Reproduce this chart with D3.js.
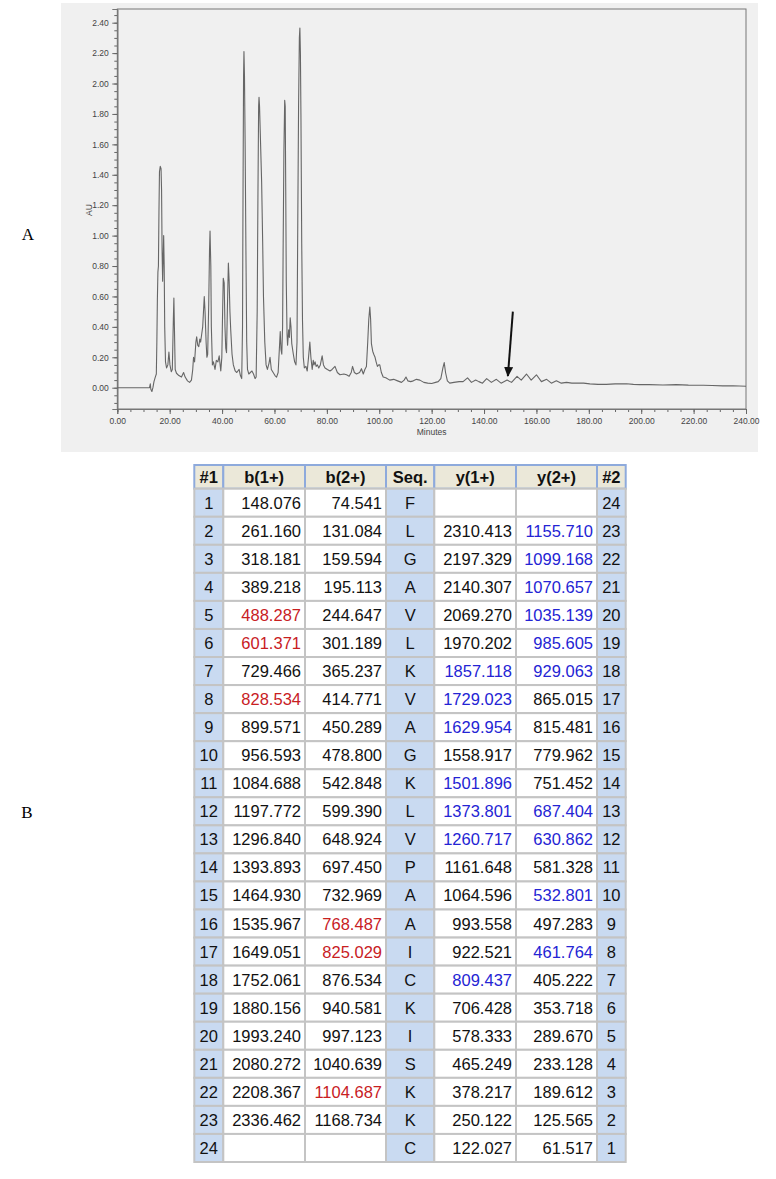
<!DOCTYPE html>
<html>
<head>
<meta charset="utf-8">
<script src="https://cdn.jsdelivr.net/npm/d3@7"></script>
<style>
  body { margin: 0; background: #fff; }
  svg { display: block; font-family: 'Liberation Sans', Arial, sans-serif; }
</style>
</head>
<body>
<svg id="fig" width="776" height="1179"></svg>
<script>
// chromatogram: [minutes, AU]
let trace = [
  [0, 0], [12.3, 0], [12.6, 0.025], [12.8, -0.01], [13.2, -0.025], [13.6, 0.0], [14.0, 0.04], [14.5, 0.07],
  [14.9, 0.09], [15.1, 0.3], [15.3, 0.58], [15.5, 0.76], [15.7, 0.8], [15.9, 1.15], [16.1, 1.42], [16.4, 1.455],
  [16.7, 1.44], [16.9, 1.3], [17.1, 0.9], [17.3, 0.7], [17.5, 0.85], [17.7, 1.0], [17.9, 0.8], [18.1, 0.4],
  [18.4, 0.17], [18.8, 0.13], [19.3, 0.15], [19.7, 0.235], [20.1, 0.15], [20.6, 0.105], [21.0, 0.12], [21.4, 0.45],
  [21.6, 0.59], [21.8, 0.4], [22.1, 0.12], [22.6, 0.095], [23.5, 0.08], [24.5, 0.07], [25.3, 0.1], [25.9, 0.07],
  [26.8, 0.045], [27.6, 0.035], [28.3, 0.05], [28.8, 0.12], [29.1, 0.2], [29.5, 0.17], [30.0, 0.3], [30.3, 0.335],
  [30.7, 0.28], [31.1, 0.27], [31.5, 0.32], [31.8, 0.3], [32.2, 0.35], [32.6, 0.4], [32.9, 0.5], [33.2, 0.6],
  [33.5, 0.5], [33.9, 0.3], [34.2, 0.2], [34.5, 0.22], [34.9, 0.55], [35.2, 0.9], [35.4, 1.03], [35.7, 0.8],
  [35.9, 0.4], [36.3, 0.15], [36.7, 0.17], [37.3, 0.12], [37.8, 0.18], [38.4, 0.17], [38.9, 0.21], [39.5, 0.11],
  [39.9, 0.2], [40.2, 0.5], [40.45, 0.72], [40.8, 0.69], [41.1, 0.4], [41.4, 0.26], [41.7, 0.23], [42.0, 0.5],
  [42.4, 0.82], [42.7, 0.7], [43.0, 0.5], [43.3, 0.38], [43.8, 0.22], [44.3, 0.15], [45.0, 0.11], [45.6, 0.1],
  [46.5, 0.12], [47.0, 0.08], [47.5, 0.06], [47.8, 0.4], [48.0, 1.3], [48.2, 2.05], [48.35, 2.21], [48.55, 2.05],
  [48.8, 1.6], [49.1, 0.9], [49.4, 0.3], [49.7, 0.12], [50.2, 0.09], [50.8, 0.1], [51.4, 0.11], [52.0, 0.09],
  [52.6, 0.06], [53.0, 0.07], [53.4, 0.5], [53.7, 1.3], [53.95, 1.85], [54.1, 1.91], [54.3, 1.85], [54.7, 1.6],
  [55.1, 1.35], [55.5, 0.95], [55.8, 0.6], [56.3, 0.3], [56.8, 0.15], [57.3, 0.12], [57.9, 0.16], [58.3, 0.2],
  [58.8, 0.12], [59.5, 0.1], [60.2, 0.08], [60.8, 0.07], [61.4, 0.1], [62.0, 0.3], [62.2, 0.37], [62.5, 0.25],
  [62.8, 0.22], [63.1, 0.4], [63.3, 0.9], [63.6, 1.55], [63.9, 1.89], [64.1, 1.85], [64.3, 1.3], [64.5, 0.7],
  [64.8, 0.35], [65.0, 0.28], [65.4, 0.38], [65.7, 0.33], [66.0, 0.46], [66.3, 0.4], [66.6, 0.29], [67.2, 0.22],
  [67.7, 0.17], [68.2, 0.15], [68.6, 0.3], [68.9, 1.1], [69.2, 1.85], [69.5, 2.3], [69.7, 2.365], [69.9, 2.2],
  [70.1, 1.8], [70.4, 0.95], [70.7, 0.44], [71.0, 0.2], [71.4, 0.13], [72.0, 0.14], [72.5, 0.11], [73.0, 0.2],
  [73.5, 0.3], [73.9, 0.2], [74.4, 0.12], [74.8, 0.18], [75.1, 0.15], [75.5, 0.17], [75.9, 0.14], [76.4, 0.15],
  [76.9, 0.13], [77.5, 0.15], [78.2, 0.21], [78.7, 0.15], [79.3, 0.13], [80.2, 0.12], [81.2, 0.11], [82.0, 0.12],
  [83.1, 0.14], [84.0, 0.1], [85.0, 0.085], [86.5, 0.09], [87.5, 0.085], [88.5, 0.075], [89.3, 0.1], [89.8, 0.14],
  [90.5, 0.1], [91.3, 0.09], [92.5, 0.1], [93.2, 0.125], [93.9, 0.09], [94.5, 0.12], [95.1, 0.14], [95.6, 0.3],
  [96.0, 0.45], [96.4, 0.53], [96.7, 0.45], [97.0, 0.29], [97.5, 0.24], [97.9, 0.22], [98.4, 0.2], [98.8, 0.17],
  [99.3, 0.14], [99.8, 0.15], [100.2, 0.15], [100.8, 0.1], [101.5, 0.07], [102.5, 0.065], [104.0, 0.05], [105.5, 0.055],
  [107.0, 0.045], [108.5, 0.035], [109.5, 0.05], [110.2, 0.07], [110.9, 0.045], [112.0, 0.04], [113.0, 0.045], [114.2, 0.055],
  [115.5, 0.05], [117.0, 0.035], [118.5, 0.03], [120.0, 0.028], [121.5, 0.035], [122.5, 0.04], [123.5, 0.06], [124.3, 0.13],
  [124.8, 0.165], [125.3, 0.1], [126.0, 0.045], [126.9, 0.03], [128.5, 0.035], [130.5, 0.04], [132.0, 0.04], [133.7, 0.065],
  [135.2, 0.035], [136.8, 0.05], [138.0, 0.04], [139.4, 0.03], [141.0, 0.06], [142.8, 0.035], [144.7, 0.055], [146.5, 0.03],
  [148.8, 0.05], [150.5, 0.035], [152.6, 0.075], [154.2, 0.05], [156.2, 0.09], [158.0, 0.05], [160.0, 0.085], [161.9, 0.04],
  [163.9, 0.055], [165.7, 0.03], [167.6, 0.045], [169.5, 0.03], [171.5, 0.035], [173.5, 0.03], [175.3, 0.03], [178.0, 0.03],
  [180.4, 0.025], [183.5, 0.022], [186.7, 0.022], [190.0, 0.025], [194.4, 0.026], [197.0, 0.022], [199.4, 0.02], [203.0, 0.02],
  [208.3, 0.018], [213.4, 0.02], [218.0, 0.017], [223.7, 0.016], [227.0, 0.015], [231.2, 0.012], [235.0, 0.013], [240, 0.01]
]

// arrow in panel A: [minutes, AU] start -> tip
let arrowFrom = [151.0, 0.5]
let arrowTo = [149.1, 0.077]

// fragment table (panel B)
let idx1 = d3.range(1, 25)
let b1 = ['148.076', '261.160', '318.181', '389.218', '488.287', '601.371', '729.466', '828.534', '899.571', '956.593',
  '1084.688', '1197.772', '1296.840', '1393.893', '1464.930', '1535.967', '1649.051', '1752.061', '1880.156', '1993.240',
  '2080.272', '2208.367', '2336.462', '']
let b2 = ['74.541', '131.084', '159.594', '195.113', '244.647', '301.189', '365.237', '414.771', '450.289', '478.800',
  '542.848', '599.390', '648.924', '697.450', '732.969', '768.487', '825.029', '876.534', '940.581', '997.123',
  '1040.639', '1104.687', '1168.734', '']
let seq = ['F', 'L', 'G', 'A', 'V', 'L', 'K', 'V', 'A', 'G', 'K', 'L', 'V', 'P', 'A', 'A', 'I', 'C', 'K', 'I', 'S', 'K', 'K', 'C']
let y1 = ['', '2310.413', '2197.329', '2140.307', '2069.270', '1970.202', '1857.118', '1729.023', '1629.954', '1558.917',
  '1501.896', '1373.801', '1260.717', '1161.648', '1064.596', '993.558', '922.521', '809.437', '706.428', '578.333',
  '465.249', '378.217', '250.122', '122.027']
let y2 = ['', '1155.710', '1099.168', '1070.657', '1035.139', '985.605', '929.063', '865.015', '815.481', '779.962',
  '751.452', '687.404', '630.862', '581.328', '532.801', '497.283', '461.764', '405.222', '353.718', '289.670',
  '233.128', '189.612', '125.565', '61.517']
let idx2 = d3.range(24, 0, -1)
let headers = ['#1', 'b(1+)', 'b(2+)', 'Seq.', 'y(1+)', 'y(2+)', '#2']

// matched ions (row numbers, 1-based)
let b1Red = [5, 6, 8]
let b2Red = [16, 17, 22]
let y1Blue = [7, 8, 9, 11, 12, 13, 18]
let y2Blue = [2, 3, 4, 5, 6, 7, 12, 13, 15, 17]

let svg = d3.select('#fig')

// ---------- panel A ----------
let plot = { left: 117.3, right: 746, top: 9, bottom: 409 }

svg.append('rect')
  .attr('x', 61).attr('y', 3)
  .attr('width', 697).attr('height', 449)
  .attr('fill', '#f0f0f0')

let xScale = d3.scaleLinear().domain([0, 240]).range([plot.left, plot.right])
let yScale = d3.scaleLinear().domain([-0.14, 2.49]).range([plot.bottom, plot.top])

svg.append('rect')
  .attr('x', plot.left).attr('y', plot.top)
  .attr('width', plot.right - plot.left).attr('height', plot.bottom - plot.top)
  .attr('fill', 'none').attr('stroke', '#777').attr('stroke-width', 1)

// minor ticks
svg.append('g')
  .attr('class', 'axis y-minor')
  .attr('transform', `translate(${plot.left},0)`)
  .call(d3.axisLeft(yScale).tickValues(d3.range(-0.1, 2.451, 0.05)).tickSize(3).tickFormat(''))
svg.append('g')
  .attr('class', 'axis x-minor')
  .attr('transform', `translate(0,${plot.bottom})`)
  .call(d3.axisBottom(xScale).tickValues(d3.range(0, 241, 5)).tickSize(3).tickFormat(''))

// major ticks
svg.append('g')
  .attr('class', 'axis y-axis')
  .attr('transform', `translate(${plot.left},0)`)
  .call(d3.axisLeft(yScale).tickValues(d3.range(0, 2.41, 0.2)).tickSize(5).tickPadding(3.5).tickFormat(d3.format('.2f')))
svg.append('g')
  .attr('class', 'axis x-axis')
  .attr('transform', `translate(0,${plot.bottom})`)
  .call(d3.axisBottom(xScale).tickValues(d3.range(0, 241, 20)).tickSize(5).tickPadding(4).tickFormat(d3.format('.2f')))

svg.selectAll('.axis .domain').attr('stroke', '#777')
svg.selectAll('.axis line').attr('stroke', '#666')
svg.selectAll('.axis text')
  .attr('font-size', 8.5)
  .attr('fill', '#444')
  .attr('font-family', "'Liberation Sans', Arial, sans-serif")

svg.append('text')
  .text('AU')
  .attr('transform', `translate(89,210) rotate(-90)`)
  .attr('text-anchor', 'middle')
  .attr('dy', '0.35em')
  .attr('font-size', 8.5)
  .attr('fill', '#444')

svg.append('text')
  .text('Minutes')
  .attr('x', (plot.left + plot.right) / 2)
  .attr('y', 435)
  .attr('text-anchor', 'middle')
  .attr('font-size', 8.5)
  .attr('fill', '#444')

let line = d3.line()
  .x(d => xScale(d[0]))
  .y(d => yScale(d[1]))

svg.append('path')
  .datum(trace)
  .attr('d', line)
  .attr('fill', 'none')
  .attr('stroke', '#666')
  .attr('stroke-width', 1.1)
  .attr('stroke-linejoin', 'round')

svg.append('defs').append('marker')
  .attr('id', 'head')
  .attr('markerUnits', 'userSpaceOnUse')
  .attr('markerWidth', 10).attr('markerHeight', 9)
  .attr('refX', 9).attr('refY', 4.5)
  .attr('orient', 'auto')
  .append('path')
  .attr('d', 'M0,0 L10,4.5 L0,9 z')
  .attr('fill', '#111')

svg.append('line')
  .attr('x1', xScale(arrowFrom[0])).attr('y1', yScale(arrowFrom[1]))
  .attr('x2', xScale(arrowTo[0])).attr('y2', yScale(arrowTo[1]))
  .attr('stroke', '#111')
  .attr('stroke-width', 2)
  .attr('marker-end', 'url(#head)')

// panel letters
svg.append('text').text('A')
  .attr('x', 28).attr('y', 240)
  .attr('text-anchor', 'middle')
  .attr('font-family', "'Liberation Serif', 'Times New Roman', serif")
  .attr('font-size', 17)

svg.append('text').text('B')
  .attr('x', 27).attr('y', 818)
  .attr('text-anchor', 'middle')
  .attr('font-family', "'Liberation Serif', 'Times New Roman', serif")
  .attr('font-size', 17)

// ---------- panel B ----------
let colWidths = [29, 81.7, 81, 48.3, 81.7, 81, 28.7]
let colX = [194.3]
colWidths.forEach((w, i) => colX.push(colX[i] + w))

let headerTop = 465
let headerBottom = 488.7
let rowScale = d3.scaleBand().domain(d3.range(24)).range([headerBottom, 1162])

let table = svg.append('g').attr('class', 'table')

// header
let head = table.selectAll('.head')
  .data(headers)
  .enter()
  .append('g')
  .attr('class', 'head')

head.append('rect')
  .attr('x', (d, i) => colX[i])
  .attr('y', headerTop)
  .attr('width', (d, i) => colWidths[i])
  .attr('height', headerBottom - headerTop)
  .attr('fill', '#ebe8d9')
  .attr('stroke', '#8eaadc')
  .attr('stroke-width', 2)

head.append('text')
  .text(d => d)
  .attr('x', (d, i) => colX[i] + colWidths[i] / 2)
  .attr('y', (headerTop + headerBottom) / 2 + 6)
  .attr('text-anchor', 'middle')
  .attr('font-weight', 'bold')
  .attr('font-size', 16.5)
  .attr('fill', '#111')

let rows = idx1.map((n, i) => ({
  n: n,
  cells: [
    { text: String(n), color: '#111', kind: 'idx' },
    { text: b1[i], color: b1Red.includes(n) ? '#c8201f' : '#111', kind: 'num' },
    { text: b2[i], color: b2Red.includes(n) ? '#c8201f' : '#111', kind: 'num' },
    { text: seq[i], color: '#111', kind: 'idx' },
    { text: y1[i], color: y1Blue.includes(n) ? '#2424d4' : '#111', kind: 'num' },
    { text: y2[i], color: y2Blue.includes(n) ? '#2424d4' : '#111', kind: 'num' },
    { text: String(idx2[i]), color: '#111', kind: 'idx' }
  ]
}))

let rowG = table.selectAll('.row')
  .data(rows)
  .enter()
  .append('g')
  .attr('class', 'row')
  .attr('transform', (d, i) => `translate(0,${rowScale(i)})`)

rowG.each(function(r) {
  let g = d3.select(this)
  let h = rowScale.bandwidth()

  g.selectAll('rect')
    .data(r.cells)
    .enter()
    .append('rect')
    .attr('x', (d, i) => colX[i])
    .attr('y', 0)
    .attr('width', (d, i) => colWidths[i])
    .attr('height', h)
    .attr('fill', d => d.kind === 'idx' ? '#c9daf1' : '#fff')
    .attr('stroke', '#c4c4c4')
    .attr('stroke-width', 2)

  g.selectAll('text')
    .data(r.cells)
    .enter()
    .append('text')
    .text(d => d.text)
    .attr('x', (d, i) => d.kind === 'idx' ? colX[i] + colWidths[i] / 2 : colX[i + 1] - 4)
    .attr('y', h / 2 + 6)
    .attr('text-anchor', d => d.kind === 'idx' ? 'middle' : 'end')
    .attr('font-size', 16.5)
    .attr('fill', d => d.color)
})
</script>
</body>
</html>
